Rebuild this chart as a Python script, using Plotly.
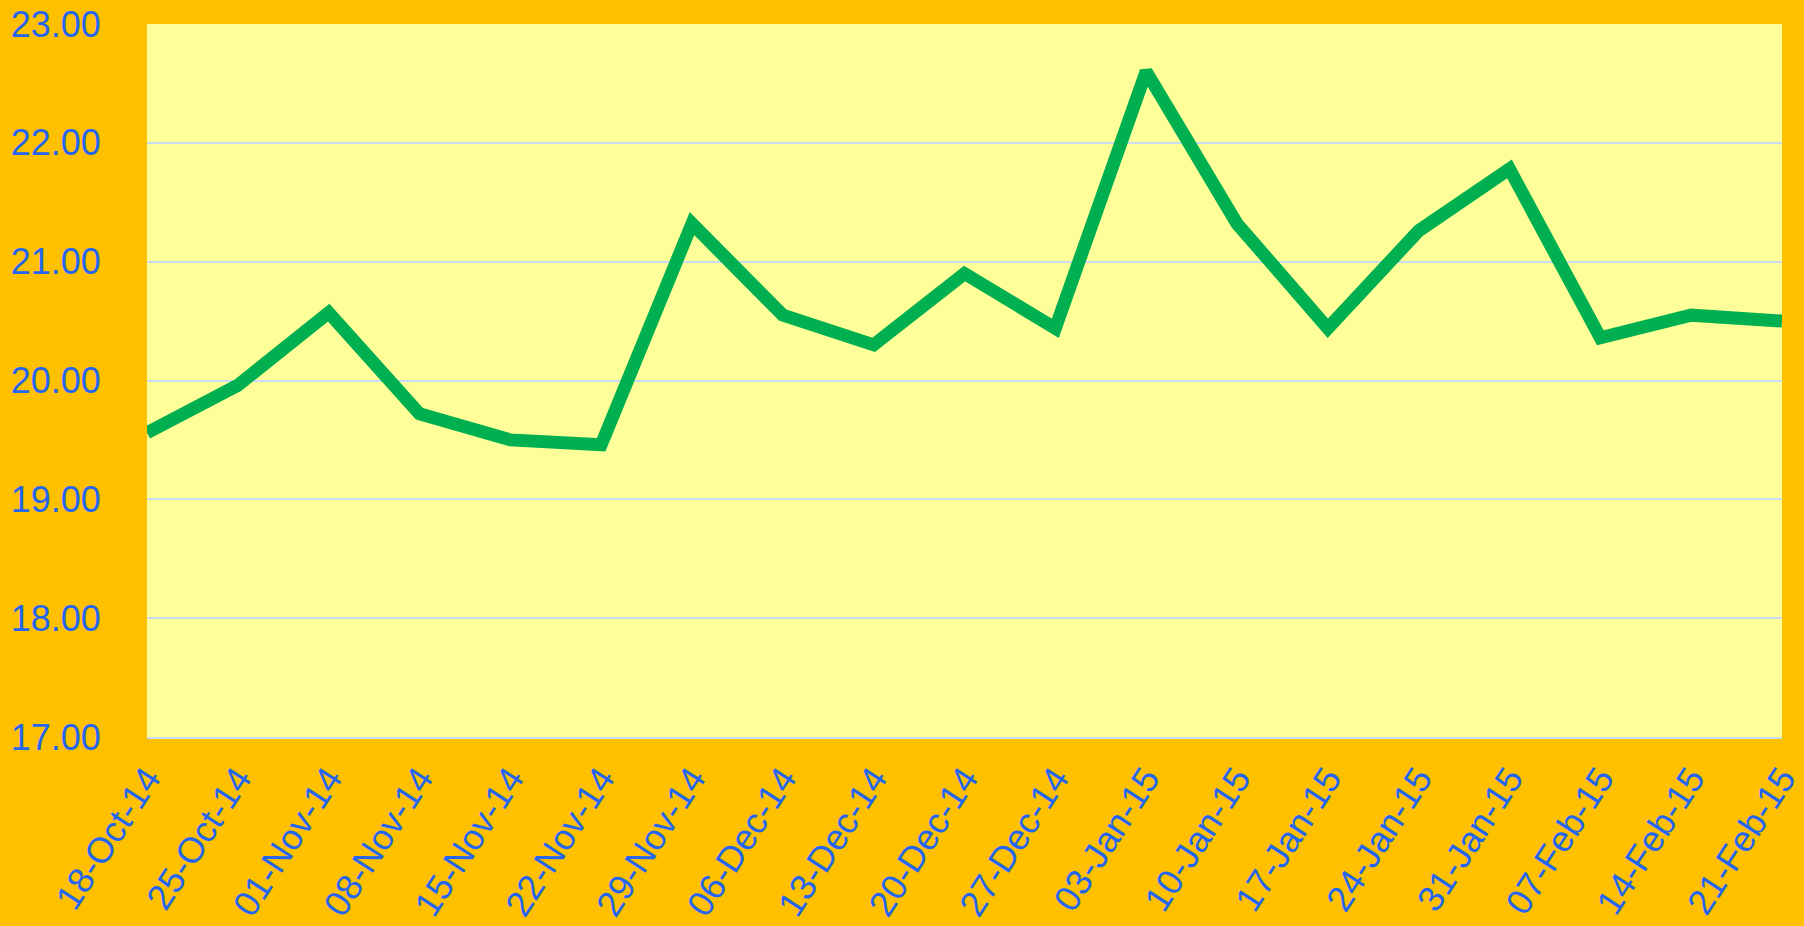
import plotly.graph_objects as go

dates = ["18-Oct-14", "25-Oct-14", "01-Nov-14", "08-Nov-14", "15-Nov-14", "22-Nov-14",
         "29-Nov-14", "06-Dec-14", "13-Dec-14", "20-Dec-14", "27-Dec-14", "03-Jan-15",
         "10-Jan-15", "17-Jan-15", "24-Jan-15", "31-Jan-15", "07-Feb-15", "14-Feb-15",
         "21-Feb-15"]
values = [19.56, 19.96, 20.57, 19.72, 19.50, 19.46,
          21.32, 20.55, 20.30, 20.90, 20.44, 22.60,
          21.32, 20.44, 21.26, 21.78, 20.36, 20.55,
          20.50]
y_ticks = [17, 18, 19, 20, 21, 22, 23]

font_color = "#2566F0"
grid_color = "#C9DCF5"

fig = go.Figure()
fig.add_trace(go.Scatter(
    x=dates, y=values, mode="lines",
    line=dict(color="#00B050", width=13),
    hoverinfo="x+y",
))

fig.update_layout(
    width=1804, height=926,
    paper_bgcolor="#FFC000",
    plot_bgcolor="#FFFF99",
    margin=dict(l=147, r=22, t=24, b=189),
    showlegend=False,
    font=dict(family="Arial, Liberation Sans, sans-serif", color=font_color),
    modebar=dict(bgcolor="rgba(0,0,0,0)", color="rgba(0,0,0,0)",
                 activecolor="rgba(0,0,0,0)"),
)
fig.update_xaxes(
    type="category",
    range=[0, len(dates) - 1],
    automargin=False,
    showgrid=False,
    zeroline=False,
    tickangle=-57,
    tickfont=dict(size=36, color=font_color),
    showline=True, linecolor=grid_color, linewidth=2,
    ticks="outside", ticklen=4, tickcolor="rgba(0,0,0,0)",
)
fig.update_yaxes(
    range=[17, 23],
    automargin=False,
    tickvals=y_ticks,
    tickformat=".2f",
    showgrid=True, gridcolor=grid_color, gridwidth=2,
    zeroline=False,
    tickfont=dict(size=36, color=font_color),
    ticks="outside", ticklen=38, tickcolor="rgba(0,0,0,0)",
)

fig.write_html(
    "out.html",
    post_script=(
        "document.body.style.margin='0';document.body.style.overflow='hidden';"
        "var s=document.createElement('style');"
        "s.textContent='.modebar-container{display:none !important;}';"
        "document.head.appendChild(s);"
    ),
)
